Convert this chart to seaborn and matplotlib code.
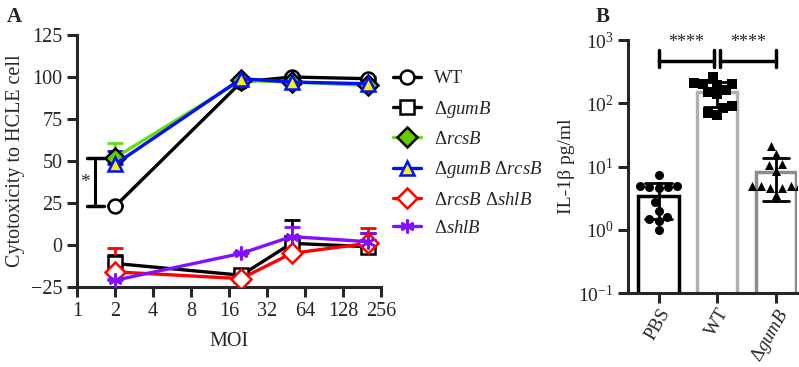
import matplotlib
matplotlib.use("Agg")
import matplotlib.pyplot as plt
import numpy as np
import pandas as pd
import seaborn as sns

# panel A: cytotoxicity vs MOI
moi = [2, 20, 50, 200]
strains = ["WT", "ΔgumB", "ΔrcsB", "ΔgumB ΔrcsB", "ΔrcsB ΔshlB", "ΔshlB"]
strain_labels = ["WT", r"Δ$\mathit{gumB}$", r"Δ$\mathit{rcsB}$",
                 r"Δ$\mathit{gumB}$ Δ$\mathit{rcsB}$",
                 r"Δ$\mathit{rcsB}$ Δ$\mathit{shlB}$", r"Δ$\mathit{shlB}$"]
wt = [23, 97, 100, 99]
gumb = [-11, -18, 1, -1]
rcsb = [52, 98, 97, 95]
gumb_rcsb = [48, 99, 97, 96]
rcsb_shlb = [-16, -20, -5, 1]
shlb = [-21, -5, 5, 2]
wt_sd = [1, 1, 1, 1]
gumb_sd = [5, 2, 14, 8]
rcsb_sd = [9, 1, 1, 1]
gumb_rcsb_sd = [8, 1, 1, 1]
rcsb_shlb_sd = [14, 1, 1, 9]
shlb_sd = [1, 1, 6, 5]

# panel B: IL-1b
groups = ["PBS", "WT", "ΔgumB"]
group_labels = ["PBS", "WT", r"Δ$\mathit{gumB}$"]
pbs_il1b = [7.3, 5.0, 5.0, 4.8, 4.8, 4.6, 2.7, 2.0, 1.6, 1.5, 1.4, 1.0]
wt_il1b = [260, 210, 205, 200, 195, 160, 150, 140, 90, 85, 70, 65]
gumb_il1b = [21, 16, 11, 10.5, 8.5, 5, 5, 5, 5, 4.5, 4.5, 3.5]

sns.set_style("ticks")
plt.rcParams["font.family"] = ["Liberation Serif", "DejaVu Serif"]
plt.rcParams["mathtext.fontset"] = "custom"
plt.rcParams["mathtext.rm"] = "Liberation Serif"
plt.rcParams["mathtext.it"] = "Liberation Serif:italic"
plt.rcParams["axes.linewidth"] = 2.2

fig = plt.figure(figsize=(7.99, 3.67), dpi=100)
ax = fig.add_axes([0.0964, 0.218, 0.3805, 0.6866])
axb = fig.add_axes([0.786, 0.2016, 0.2115, 0.6894])

ax.set_xscale("log", base=2)
styles = [
    (wt, wt_sd, "black", "o", "white", "black"),
    (gumb, gumb_sd, "black", "s", "white", "black"),
    (rcsb, rcsb_sd, "#66dd11", "D", "#66cc00", "black"),
    (gumb_rcsb, gumb_rcsb_sd, "#0010ff", "^", "#ffee00", "#0010ff"),
    (rcsb_shlb, rcsb_shlb_sd, "#ff0000", "D", "white", "#ff0000"),
    (shlb, shlb_sd, "#8010ff", (6, 2, 0), "#8010ff", "#8010ff"),
]
for lab, (vals, sd, col, mk, fc, ec) in zip(strain_labels, styles):
    ax.errorbar(moi, vals, yerr=[np.zeros(len(sd)), sd], fmt="none",
                ecolor=col, elinewidth=2, capsize=6, capthick=2, zorder=1)
    sns.lineplot(x=moi, y=vals, ax=ax, color=col, linewidth=2.4,
                 marker=mk, markersize=10, markerfacecolor=fc,
                 markeredgecolor=ec, markeredgewidth=1.8, label=lab, zorder=3)

ax.set_xlim(1, 256)
ax.set_ylim(-25, 125)
ax.set_xticks([1, 2, 4, 8, 16, 32, 64, 128, 256])
ax.set_xticklabels(["1", "2", "4", "8", "16", "32", "64", "128", "256"])
ax.minorticks_off()
ax.set_yticks([-25, 0, 25, 50, 75, 100, 125])
ax.tick_params(labelsize=14.5, width=2.2, length=7)
ax.set_xlabel("MOI", fontsize=14.5, labelpad=8)
ax.set_ylabel("Cytotoxicity to HCLE cell", fontsize=14.5)
sns.despine(ax=ax)

# significance bracket at MOI 2
ax.plot([1.39, 1.39], [23, 52], color="black", lw=2.2, clip_on=False)
ax.plot([1.2, 1.65], [23, 23], color="black", lw=2.5, clip_on=False)
ax.plot([1.2, 1.65], [52, 52], color="black", lw=2.5, clip_on=False)
ax.text(1.16, 37, "*", fontsize=14, ha="center", va="center")

ax.legend(loc="upper left", bbox_to_anchor=(1.015, 0.89), frameon=False,
          fontsize=13.5, handlelength=1.5, handletextpad=0.7, labelspacing=0.6,
          borderaxespad=0)

# panel B
dfb = pd.DataFrame({
    "group": ["PBS"] * len(pbs_il1b) + ["WT"] * len(wt_il1b) + ["ΔgumB"] * len(gumb_il1b),
    "value": pbs_il1b + wt_il1b + gumb_il1b,
})
# arithmetic mean +/- SD, then switch to log axis
sns.barplot(data=dfb, x="group", y="value", hue="group", order=groups,
            palette=["black", "#b0b0b0", "#8c8c8c"], fill=False, width=0.69,
            linewidth=2.5, errorbar="sd", capsize=0.45,
            err_kws={"color": "black", "linewidth": 2}, legend=False, ax=axb)
axb.set_yscale("log")
axb.set_ylim(0.1, 1000)
axb.set_xlim(-0.52, 2.36)
for g, mk in zip(groups, ["o", "s", "^"]):
    sub = dfb[dfb["group"] == g]
    sns.swarmplot(data=sub, x="group", y="value", order=groups, marker=mk,
                  color="black", size=6.5, ax=axb, zorder=4)
axb.set_ylim(0.1, 1000)
axb.set_xlim(-0.52, 2.36)
axb.set_xticks([0, 1, 2])
axb.set_xticklabels(group_labels, rotation=60, ha="right",
                    rotation_mode="anchor", fontsize=13.5)
axb.minorticks_off()
axb.tick_params(labelsize=14, width=2.2, length=7)
axb.tick_params(axis="x", pad=2, labelsize=13.5)
axb.set_xlabel("")
axb.set_ylabel("IL-1β pg/ml", fontsize=14, labelpad=2)
sns.despine(ax=axb)

for x0, x1 in [(0, 0.95), (1.05, 2)]:
    axb.plot([x0, x1], [460, 460], color="black", lw=2.5, clip_on=False)
    axb.plot([x0, x0], [370, 690], color="black", lw=2.5, clip_on=False)
    axb.plot([x1, x1], [370, 690], color="black", lw=2.5, clip_on=False)
    axb.text((x0 + x1) / 2, 680, "****", fontsize=13, ha="center", va="bottom")

fig.text(0.008, 0.955, "A", fontsize=15, fontweight="bold", va="center")
fig.text(0.745, 0.955, "B", fontsize=15, fontweight="bold", va="center")

fig.savefig("out.png", dpi=100)
